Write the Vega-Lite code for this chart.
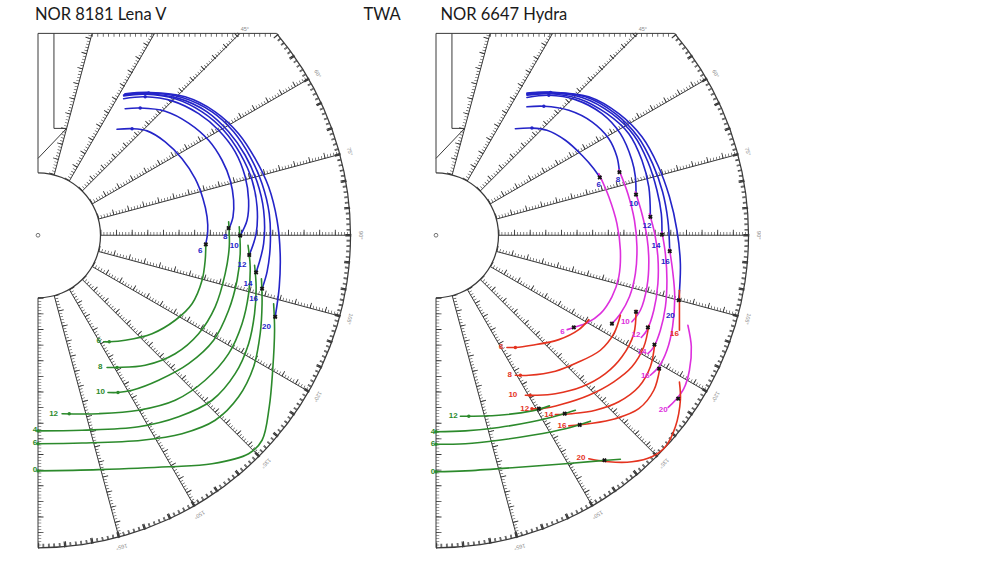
{
  "$schema": "https://vega.github.io/schema/vega-lite/v6.json",
  "background": "white",
  "padding": {"left": 26, "top": 6.75, "right": 0, "bottom": 0},
  "spacing": 68,
  "bounds": "flush",
  "config": {"view": {"stroke": null}, "line": {"strokeCap": "round"}},
  "datasets": {
    "arcLine": [
      {"t1": 49.76, "t2": 180, "r1": 10.02, "r2": 9.98},
      {"t1": 0, "t2": 180, "r1": 2.02, "r2": 1.98}
    ],
    "arcTick": [{"t1": 50, "t2": 180, "r1": 9.93, "r2": 9.93}],
    "spokes": [
      {"twa": 15, "x": 0.518, "y": 1.932, "x2": 1.731, "y2": 6.46},
      {"twa": 30, "x": 1.0, "y": 1.732, "x2": 3.73, "y2": 6.46},
      {"twa": 45, "x": 1.414, "y": 1.414, "x2": 6.46, "y2": 6.46},
      {"twa": 60, "x": 1.732, "y": 1.0, "x2": 8.66, "y2": 5.0},
      {"twa": 75, "x": 1.932, "y": 0.518, "x2": 9.659, "y2": 2.588},
      {"twa": 90, "x": 2.0, "y": 0, "x2": 10.0, "y2": 0},
      {"twa": 105, "x": 1.932, "y": -0.518, "x2": 9.659, "y2": -2.588},
      {"twa": 120, "x": 1.732, "y": -1.0, "x2": 8.66, "y2": -5.0},
      {"twa": 135, "x": 1.414, "y": -1.414, "x2": 7.071, "y2": -7.071},
      {"twa": 150, "x": 1.0, "y": -1.732, "x2": 5.0, "y2": -8.66},
      {"twa": 165, "x": 0.518, "y": -1.932, "x2": 2.588, "y2": -9.659},
      {"twa": 180, "x": 0, "y": -2.0, "x2": 0, "y2": -10.0}
    ],
    "ticksMinor": [
      {"twa": 15, "x": 0.468, "y": 1.945, "x2": 1.681, "y2": 6.46},
      {"twa": 30, "x": 0.955, "y": 1.758, "x2": 3.685, "y2": 6.46},
      {"twa": 45, "x": 1.377, "y": 1.451, "x2": 6.423, "y2": 6.46},
      {"twa": 60, "x": 1.706, "y": 1.045, "x2": 8.634, "y2": 5.045},
      {"twa": 75, "x": 1.919, "y": 0.568, "x2": 9.646, "y2": 2.638},
      {"twa": 90, "x": 2.0, "y": 0.052, "x2": 10.0, "y2": 0.052},
      {"twa": 105, "x": 1.945, "y": -0.468, "x2": 9.672, "y2": -2.538},
      {"twa": 120, "x": 1.758, "y": -0.955, "x2": 8.686, "y2": -4.955},
      {"twa": 135, "x": 1.451, "y": -1.377, "x2": 7.108, "y2": -7.034},
      {"twa": 150, "x": 1.045, "y": -1.706, "x2": 5.045, "y2": -8.634},
      {"twa": 165, "x": 0.568, "y": -1.919, "x2": 2.638, "y2": -9.646},
      {"twa": 180, "x": 0.052, "y": -2.0, "x2": 0.052, "y2": -10.0}
    ],
    "ticksMajor": [
      {"twa": 15, "x": 0.433, "y": 1.955, "x2": 1.646, "y2": 6.46},
      {"twa": 30, "x": 0.924, "y": 1.776, "x2": 3.654, "y2": 6.46},
      {"twa": 45, "x": 1.352, "y": 1.476, "x2": 6.398, "y2": 6.46},
      {"twa": 60, "x": 1.688, "y": 1.076, "x2": 8.616, "y2": 5.076},
      {"twa": 75, "x": 1.909, "y": 0.603, "x2": 9.636, "y2": 2.673},
      {"twa": 90, "x": 2.0, "y": 0.088, "x2": 10.0, "y2": 0.088},
      {"twa": 105, "x": 1.955, "y": -0.433, "x2": 9.682, "y2": -2.503},
      {"twa": 120, "x": 1.776, "y": -0.924, "x2": 8.704, "y2": -4.924},
      {"twa": 135, "x": 1.476, "y": -1.352, "x2": 7.133, "y2": -7.009},
      {"twa": 150, "x": 1.076, "y": -1.688, "x2": 5.076, "y2": -8.616},
      {"twa": 165, "x": 0.603, "y": -1.909, "x2": 2.673, "y2": -9.636},
      {"twa": 180, "x": 0.088, "y": -2.0, "x2": 0.088, "y2": -10.0}
    ],
    "frame": [
      {"x": 0, "y": 2.0, "x2": 0, "y2": 6.46},
      {"x": 0, "y": 6.46, "x2": 7.634, "y2": 6.46},
      {"x": 0.51, "y": 6.46, "x2": 0.51, "y2": 3.42},
      {"x": 0.51, "y": 3.42, "x2": 0.916, "y2": 3.42},
      {"x": 0, "y": 2.46, "x2": 0.916, "y2": 3.42}
    ],
    "topTicks": [{"x": 1.73, "y": 6.405, "x2": 7.6, "y2": 6.405}],
    "center": [{"x": 0, "y": 0}],
    "deg": [
      {"twa": 45, "lab": "45°", "x": 6.62, "y": 6.6},
      {"twa": 60, "lab": "60°", "x": 8.95, "y": 5.17},
      {"twa": 75, "lab": "75°", "x": 9.98, "y": 2.68},
      {"twa": 90, "lab": "90°", "x": 10.32, "y": 0},
      {"twa": 105, "lab": "105°", "x": 9.98, "y": -2.68},
      {"twa": 120, "lab": "120°", "x": 8.95, "y": -5.17},
      {"twa": 135, "lab": "135°", "x": 7.3, "y": -7.3},
      {"twa": 150, "lab": "150°", "x": 5.17, "y": -8.95},
      {"twa": 165, "lab": "165°", "x": 2.68, "y": -9.98}
    ],
    "headL": [{"x": -0.1, "y": 7.04, "text": "NOR 8181 Lena V"}],
    "twaText": [{"x": 11.01, "y": 7.04, "text": "TWA"}],
    "headR": [{"x": 0.14, "y": 7.04, "text": "NOR 6647 Hydra"}],
    "curvesL": [
      {"sail": "upwind", "tws": 6, "i": 0, "x": 2.53, "y": 3.39},
      {"sail": "upwind", "tws": 6, "i": 1, "x": 3.01, "y": 3.41},
      {"sail": "upwind", "tws": 6, "i": 2, "x": 3.49, "y": 3.34},
      {"sail": "upwind", "tws": 6, "i": 3, "x": 4.07, "y": 2.99},
      {"sail": "upwind", "tws": 6, "i": 4, "x": 4.61, "y": 2.45},
      {"sail": "upwind", "tws": 6, "i": 5, "x": 5.03, "y": 1.81},
      {"sail": "upwind", "tws": 6, "i": 6, "x": 5.28, "y": 1.17},
      {"sail": "upwind", "tws": 6, "i": 7, "x": 5.41, "y": 0.59},
      {"sail": "upwind", "tws": 6, "i": 8, "x": 5.43, "y": 0.11},
      {"sail": "upwind", "tws": 6, "i": 9, "x": 5.37, "y": -0.27},
      {"sail": "upwind", "tws": 8, "i": 0, "x": 2.79, "y": 4.05},
      {"sail": "upwind", "tws": 8, "i": 1, "x": 3.27, "y": 4.07},
      {"sail": "upwind", "tws": 8, "i": 2, "x": 4.07, "y": 3.97},
      {"sail": "upwind", "tws": 8, "i": 3, "x": 4.82, "y": 3.59},
      {"sail": "upwind", "tws": 8, "i": 4, "x": 5.46, "y": 3.04},
      {"sail": "upwind", "tws": 8, "i": 5, "x": 5.89, "y": 2.4},
      {"sail": "upwind", "tws": 8, "i": 6, "x": 6.15, "y": 1.76},
      {"sail": "upwind", "tws": 8, "i": 7, "x": 6.26, "y": 1.12},
      {"sail": "upwind", "tws": 8, "i": 8, "x": 6.24, "y": 0.59},
      {"sail": "upwind", "tws": 8, "i": 9, "x": 6.12, "y": 0.23},
      {"sail": "upwind", "tws": 10, "i": 0, "x": 2.74, "y": 4.37},
      {"sail": "upwind", "tws": 10, "i": 1, "x": 3.43, "y": 4.43},
      {"sail": "upwind", "tws": 10, "i": 2, "x": 4.29, "y": 4.3},
      {"sail": "upwind", "tws": 10, "i": 3, "x": 5.14, "y": 3.89},
      {"sail": "upwind", "tws": 10, "i": 4, "x": 5.78, "y": 3.36},
      {"sail": "upwind", "tws": 10, "i": 5, "x": 6.31, "y": 2.67},
      {"sail": "upwind", "tws": 10, "i": 6, "x": 6.63, "y": 1.87},
      {"sail": "upwind", "tws": 10, "i": 7, "x": 6.74, "y": 1.12},
      {"sail": "upwind", "tws": 10, "i": 8, "x": 6.69, "y": 0.48},
      {"sail": "upwind", "tws": 10, "i": 9, "x": 6.47, "y": -0.01},
      {"sail": "upwind", "tws": 12, "i": 0, "x": 2.74, "y": 4.46},
      {"sail": "upwind", "tws": 12, "i": 1, "x": 3.43, "y": 4.51},
      {"sail": "upwind", "tws": 12, "i": 2, "x": 4.39, "y": 4.37},
      {"sail": "upwind", "tws": 12, "i": 3, "x": 5.25, "y": 3.95},
      {"sail": "upwind", "tws": 12, "i": 4, "x": 5.94, "y": 3.36},
      {"sail": "upwind", "tws": 12, "i": 5, "x": 6.47, "y": 2.61},
      {"sail": "upwind", "tws": 12, "i": 6, "x": 6.85, "y": 1.76},
      {"sail": "upwind", "tws": 12, "i": 7, "x": 7.01, "y": 0.91},
      {"sail": "upwind", "tws": 12, "i": 8, "x": 6.98, "y": 0.05},
      {"sail": "upwind", "tws": 12, "i": 9, "x": 6.76, "y": -0.63},
      {"sail": "upwind", "tws": 14, "i": 0, "x": 2.74, "y": 4.49},
      {"sail": "upwind", "tws": 14, "i": 1, "x": 3.49, "y": 4.53},
      {"sail": "upwind", "tws": 14, "i": 2, "x": 4.5, "y": 4.38},
      {"sail": "upwind", "tws": 14, "i": 3, "x": 5.41, "y": 3.95},
      {"sail": "upwind", "tws": 14, "i": 4, "x": 6.1, "y": 3.31},
      {"sail": "upwind", "tws": 14, "i": 5, "x": 6.63, "y": 2.56},
      {"sail": "upwind", "tws": 14, "i": 6, "x": 7.01, "y": 1.71},
      {"sail": "upwind", "tws": 14, "i": 7, "x": 7.22, "y": 0.8},
      {"sail": "upwind", "tws": 14, "i": 8, "x": 7.22, "y": -0.27},
      {"sail": "upwind", "tws": 14, "i": 9, "x": 6.98, "y": -1.19},
      {"sail": "upwind", "tws": 16, "i": 0, "x": 2.77, "y": 4.51},
      {"sail": "upwind", "tws": 16, "i": 1, "x": 3.54, "y": 4.55},
      {"sail": "upwind", "tws": 16, "i": 2, "x": 4.61, "y": 4.41},
      {"sail": "upwind", "tws": 16, "i": 3, "x": 5.57, "y": 3.95},
      {"sail": "upwind", "tws": 16, "i": 4, "x": 6.26, "y": 3.31},
      {"sail": "upwind", "tws": 16, "i": 5, "x": 6.79, "y": 2.51},
      {"sail": "upwind", "tws": 16, "i": 6, "x": 7.17, "y": 1.65},
      {"sail": "upwind", "tws": 16, "i": 7, "x": 7.4, "y": 0.69},
      {"sail": "upwind", "tws": 16, "i": 8, "x": 7.43, "y": -0.37},
      {"sail": "upwind", "tws": 16, "i": 9, "x": 7.33, "y": -1.17},
      {"sail": "upwind", "tws": 16, "i": 10, "x": 7.17, "y": -1.71},
      {"sail": "upwind", "tws": 20, "i": 0, "x": 2.79, "y": 4.53},
      {"sail": "upwind", "tws": 20, "i": 1, "x": 3.59, "y": 4.57},
      {"sail": "upwind", "tws": 20, "i": 2, "x": 4.71, "y": 4.43},
      {"sail": "upwind", "tws": 20, "i": 3, "x": 5.67, "y": 3.95},
      {"sail": "upwind", "tws": 20, "i": 4, "x": 6.42, "y": 3.25},
      {"sail": "upwind", "tws": 20, "i": 5, "x": 6.95, "y": 2.45},
      {"sail": "upwind", "tws": 20, "i": 6, "x": 7.38, "y": 1.55},
      {"sail": "upwind", "tws": 20, "i": 7, "x": 7.65, "y": 0.48},
      {"sail": "upwind", "tws": 20, "i": 8, "x": 7.75, "y": -0.59},
      {"sail": "upwind", "tws": 20, "i": 9, "x": 7.72, "y": -1.65},
      {"sail": "upwind", "tws": 20, "i": 10, "x": 7.59, "y": -2.61},
      {"sail": "spinnaker", "tws": 6, "i": 0, "x": 5.37, "y": -0.27},
      {"sail": "spinnaker", "tws": 6, "i": 1, "x": 5.35, "y": -0.8},
      {"sail": "spinnaker", "tws": 6, "i": 2, "x": 5.25, "y": -1.44},
      {"sail": "spinnaker", "tws": 6, "i": 3, "x": 4.93, "y": -2.19},
      {"sail": "spinnaker", "tws": 6, "i": 4, "x": 4.39, "y": -2.72},
      {"sail": "spinnaker", "tws": 6, "i": 5, "x": 3.65, "y": -3.15},
      {"sail": "spinnaker", "tws": 6, "i": 6, "x": 2.79, "y": -3.36},
      {"sail": "spinnaker", "tws": 6, "i": 7, "x": 2.28, "y": -3.41},
      {"sail": "spinnaker", "tws": 6, "i": 8, "x": 2.1, "y": -3.41},
      {"sail": "spinnaker", "tws": 8, "i": 0, "x": 6.1, "y": 0.43},
      {"sail": "spinnaker", "tws": 8, "i": 1, "x": 6.12, "y": -0.37},
      {"sail": "spinnaker", "tws": 8, "i": 2, "x": 5.99, "y": -1.23},
      {"sail": "spinnaker", "tws": 8, "i": 3, "x": 5.67, "y": -2.29},
      {"sail": "spinnaker", "tws": 8, "i": 4, "x": 5.14, "y": -3.15},
      {"sail": "spinnaker", "tws": 8, "i": 5, "x": 4.39, "y": -3.79},
      {"sail": "spinnaker", "tws": 8, "i": 6, "x": 3.43, "y": -4.16},
      {"sail": "spinnaker", "tws": 8, "i": 7, "x": 2.53, "y": -4.23},
      {"sail": "spinnaker", "tws": 8, "i": 8, "x": 2.21, "y": -4.23},
      {"sail": "spinnaker", "tws": 10, "i": 0, "x": 6.44, "y": 0.27},
      {"sail": "spinnaker", "tws": 10, "i": 1, "x": 6.47, "y": -0.59},
      {"sail": "spinnaker", "tws": 10, "i": 2, "x": 6.37, "y": -1.44},
      {"sail": "spinnaker", "tws": 10, "i": 3, "x": 6.1, "y": -2.4},
      {"sail": "spinnaker", "tws": 10, "i": 4, "x": 5.62, "y": -3.36},
      {"sail": "spinnaker", "tws": 10, "i": 5, "x": 4.82, "y": -4.11},
      {"sail": "spinnaker", "tws": 10, "i": 6, "x": 3.86, "y": -4.64},
      {"sail": "spinnaker", "tws": 10, "i": 7, "x": 3.01, "y": -4.96},
      {"sail": "spinnaker", "tws": 10, "i": 8, "x": 2.56, "y": -5.03},
      {"sail": "spinnaker", "tws": 10, "i": 9, "x": 2.24, "y": -5.03},
      {"sail": "spinnaker", "tws": 12, "i": 0, "x": 6.72, "y": -0.32},
      {"sail": "spinnaker", "tws": 12, "i": 1, "x": 6.79, "y": -1.01},
      {"sail": "spinnaker", "tws": 12, "i": 2, "x": 6.74, "y": -1.87},
      {"sail": "spinnaker", "tws": 12, "i": 3, "x": 6.53, "y": -2.83},
      {"sail": "spinnaker", "tws": 12, "i": 4, "x": 6.1, "y": -3.79},
      {"sail": "spinnaker", "tws": 12, "i": 5, "x": 5.35, "y": -4.64},
      {"sail": "spinnaker", "tws": 12, "i": 6, "x": 4.39, "y": -5.28},
      {"sail": "spinnaker", "tws": 12, "i": 7, "x": 3.22, "y": -5.6},
      {"sail": "spinnaker", "tws": 12, "i": 8, "x": 1.94, "y": -5.71},
      {"sail": "spinnaker", "tws": 12, "i": 9, "x": 0.77, "y": -5.71},
      {"sail": "spinnaker", "tws": 14, "i": 0, "x": 6.93, "y": -0.96},
      {"sail": "spinnaker", "tws": 14, "i": 1, "x": 6.98, "y": -1.65},
      {"sail": "spinnaker", "tws": 14, "i": 2, "x": 6.93, "y": -2.51},
      {"sail": "spinnaker", "tws": 14, "i": 3, "x": 6.74, "y": -3.47},
      {"sail": "spinnaker", "tws": 14, "i": 4, "x": 6.31, "y": -4.43},
      {"sail": "spinnaker", "tws": 14, "i": 5, "x": 5.57, "y": -5.28},
      {"sail": "spinnaker", "tws": 14, "i": 6, "x": 4.5, "y": -5.81},
      {"sail": "spinnaker", "tws": 14, "i": 7, "x": 3.22, "y": -6.13},
      {"sail": "spinnaker", "tws": 14, "i": 8, "x": 1.41, "y": -6.24},
      {"sail": "spinnaker", "tws": 14, "i": 9, "x": 0, "y": -6.26},
      {"sail": "spinnaker", "tws": 16, "i": 0, "x": 7.15, "y": -1.39},
      {"sail": "spinnaker", "tws": 16, "i": 1, "x": 7.17, "y": -2.19},
      {"sail": "spinnaker", "tws": 16, "i": 2, "x": 7.11, "y": -3.15},
      {"sail": "spinnaker", "tws": 16, "i": 3, "x": 6.9, "y": -4.21},
      {"sail": "spinnaker", "tws": 16, "i": 4, "x": 6.42, "y": -5.17},
      {"sail": "spinnaker", "tws": 16, "i": 5, "x": 5.67, "y": -5.92},
      {"sail": "spinnaker", "tws": 16, "i": 6, "x": 4.61, "y": -6.35},
      {"sail": "spinnaker", "tws": 16, "i": 7, "x": 3.33, "y": -6.56},
      {"sail": "spinnaker", "tws": 16, "i": 8, "x": 1.41, "y": -6.65},
      {"sail": "spinnaker", "tws": 16, "i": 9, "x": 0, "y": -6.67},
      {"sail": "spinnaker", "tws": 20, "i": 0, "x": 7.54, "y": -2.19},
      {"sail": "spinnaker", "tws": 20, "i": 1, "x": 7.57, "y": -3.04},
      {"sail": "spinnaker", "tws": 20, "i": 2, "x": 7.51, "y": -4.32},
      {"sail": "spinnaker", "tws": 20, "i": 3, "x": 7.4, "y": -5.49},
      {"sail": "spinnaker", "tws": 20, "i": 4, "x": 7.17, "y": -6.56},
      {"sail": "spinnaker", "tws": 20, "i": 5, "x": 6.74, "y": -6.99},
      {"sail": "spinnaker", "tws": 20, "i": 6, "x": 5.57, "y": -7.31},
      {"sail": "spinnaker", "tws": 20, "i": 7, "x": 4.18, "y": -7.41},
      {"sail": "spinnaker", "tws": 20, "i": 8, "x": 1.94, "y": -7.5},
      {"sail": "spinnaker", "tws": 20, "i": 9, "x": 0, "y": -7.54}
    ],
    "labelsL": [
      {"sail": "upwind", "label": "6", "x": 5.19, "y": -0.51},
      {"sail": "upwind", "label": "8", "x": 5.99, "y": -0.05},
      {"sail": "upwind", "label": "10", "x": 6.28, "y": -0.35},
      {"sail": "upwind", "label": "12", "x": 6.53, "y": -0.94},
      {"sail": "upwind", "label": "14", "x": 6.72, "y": -1.55},
      {"sail": "upwind", "label": "16", "x": 6.9, "y": -2.05},
      {"sail": "upwind", "label": "20", "x": 7.31, "y": -2.95},
      {"sail": "spinnaker", "label": "6", "x": 1.94, "y": -3.38},
      {"sail": "spinnaker", "label": "8", "x": 1.99, "y": -4.23},
      {"sail": "spinnaker", "label": "10", "x": 2.0, "y": -5.03},
      {"sail": "spinnaker", "label": "12", "x": 0.5, "y": -5.71},
      {"sail": "spinnaker", "label": "4", "x": -0.1, "y": -6.24},
      {"sail": "spinnaker", "label": "6", "x": -0.1, "y": -6.65},
      {"sail": "spinnaker", "label": "0", "x": -0.1, "y": -7.52}
    ],
    "xL": [
      {"x": 5.37, "y": -0.29}, {"x": 6.1, "y": 0.23}, {"x": 6.47, "y": -0.01},
      {"x": 6.76, "y": -0.63}, {"x": 6.98, "y": -1.19}, {"x": 7.17, "y": -1.71},
      {"x": 7.59, "y": -2.61}
    ],
    "dotsL": [
      {"sail": "upwind", "x": 3.01, "y": 3.41}, {"sail": "upwind", "x": 3.27, "y": 4.07},
      {"sail": "upwind", "x": 3.43, "y": 4.43}, {"sail": "upwind", "x": 3.54, "y": 4.55},
      {"sail": "spinnaker", "x": 2.28, "y": -3.41}, {"sail": "spinnaker", "x": 2.53, "y": -4.23},
      {"sail": "spinnaker", "x": 2.56, "y": -5.03}, {"sail": "spinnaker", "x": 1.0, "y": -5.71},
      {"sail": "spinnaker", "x": 0, "y": -6.26}, {"sail": "spinnaker", "x": 0, "y": -6.67},
      {"sail": "spinnaker", "x": 0, "y": -7.54}
    ],
    "curvesR": [
      {"sail": "upwind", "tws": 6, "i": 0, "x": 2.54, "y": 3.41},
      {"sail": "upwind", "tws": 6, "i": 1, "x": 3.07, "y": 3.43},
      {"sail": "upwind", "tws": 6, "i": 2, "x": 3.55, "y": 3.36},
      {"sail": "upwind", "tws": 6, "i": 3, "x": 4.14, "y": 3.04},
      {"sail": "upwind", "tws": 6, "i": 4, "x": 4.67, "y": 2.56},
      {"sail": "upwind", "tws": 6, "i": 5, "x": 5.05, "y": 2.13},
      {"sail": "upwind", "tws": 6, "i": 6, "x": 5.24, "y": 1.85},
      {"sail": "upwind", "tws": 8, "i": 0, "x": 2.91, "y": 4.11},
      {"sail": "upwind", "tws": 8, "i": 1, "x": 3.45, "y": 4.13},
      {"sail": "upwind", "tws": 8, "i": 2, "x": 4.25, "y": 4.0},
      {"sail": "upwind", "tws": 8, "i": 3, "x": 4.99, "y": 3.63},
      {"sail": "upwind", "tws": 8, "i": 4, "x": 5.53, "y": 3.09},
      {"sail": "upwind", "tws": 8, "i": 5, "x": 5.79, "y": 2.51},
      {"sail": "upwind", "tws": 8, "i": 6, "x": 5.87, "y": 2.02},
      {"sail": "upwind", "tws": 10, "i": 0, "x": 2.91, "y": 4.41},
      {"sail": "upwind", "tws": 10, "i": 1, "x": 3.61, "y": 4.48},
      {"sail": "upwind", "tws": 10, "i": 2, "x": 4.46, "y": 4.34},
      {"sail": "upwind", "tws": 10, "i": 3, "x": 5.31, "y": 3.89},
      {"sail": "upwind", "tws": 10, "i": 4, "x": 5.9, "y": 3.25},
      {"sail": "upwind", "tws": 10, "i": 5, "x": 6.27, "y": 2.4},
      {"sail": "upwind", "tws": 10, "i": 6, "x": 6.38, "y": 1.87},
      {"sail": "upwind", "tws": 10, "i": 7, "x": 6.4, "y": 1.3},
      {"sail": "upwind", "tws": 12, "i": 0, "x": 2.91, "y": 4.48},
      {"sail": "upwind", "tws": 12, "i": 1, "x": 3.61, "y": 4.53},
      {"sail": "upwind", "tws": 12, "i": 2, "x": 4.57, "y": 4.37},
      {"sail": "upwind", "tws": 12, "i": 3, "x": 5.47, "y": 3.89},
      {"sail": "upwind", "tws": 12, "i": 4, "x": 6.17, "y": 3.25},
      {"sail": "upwind", "tws": 12, "i": 5, "x": 6.59, "y": 2.4},
      {"sail": "upwind", "tws": 12, "i": 6, "x": 6.81, "y": 1.55},
      {"sail": "upwind", "tws": 12, "i": 7, "x": 6.86, "y": 0.59},
      {"sail": "upwind", "tws": 14, "i": 0, "x": 2.91, "y": 4.51},
      {"sail": "upwind", "tws": 14, "i": 1, "x": 3.63, "y": 4.55},
      {"sail": "upwind", "tws": 14, "i": 2, "x": 4.67, "y": 4.41},
      {"sail": "upwind", "tws": 14, "i": 3, "x": 5.63, "y": 3.89},
      {"sail": "upwind", "tws": 14, "i": 4, "x": 6.33, "y": 3.2},
      {"sail": "upwind", "tws": 14, "i": 5, "x": 6.78, "y": 2.35},
      {"sail": "upwind", "tws": 14, "i": 6, "x": 7.07, "y": 1.44},
      {"sail": "upwind", "tws": 14, "i": 7, "x": 7.21, "y": 0.69},
      {"sail": "upwind", "tws": 14, "i": 8, "x": 7.23, "y": 0.02},
      {"sail": "upwind", "tws": 16, "i": 0, "x": 2.91, "y": 4.53},
      {"sail": "upwind", "tws": 16, "i": 1, "x": 3.66, "y": 4.57},
      {"sail": "upwind", "tws": 16, "i": 2, "x": 4.78, "y": 4.43},
      {"sail": "upwind", "tws": 16, "i": 3, "x": 5.74, "y": 3.89},
      {"sail": "upwind", "tws": 16, "i": 4, "x": 6.46, "y": 3.15},
      {"sail": "upwind", "tws": 16, "i": 5, "x": 6.93, "y": 2.29},
      {"sail": "upwind", "tws": 16, "i": 6, "x": 7.25, "y": 1.39},
      {"sail": "upwind", "tws": 16, "i": 7, "x": 7.42, "y": 0.48},
      {"sail": "upwind", "tws": 16, "i": 8, "x": 7.48, "y": -0.51},
      {"sail": "upwind", "tws": 20, "i": 0, "x": 2.91, "y": 4.55},
      {"sail": "upwind", "tws": 20, "i": 1, "x": 3.69, "y": 4.58},
      {"sail": "upwind", "tws": 20, "i": 2, "x": 4.89, "y": 4.43},
      {"sail": "upwind", "tws": 20, "i": 3, "x": 5.85, "y": 3.89},
      {"sail": "upwind", "tws": 20, "i": 4, "x": 6.59, "y": 3.15},
      {"sail": "upwind", "tws": 20, "i": 5, "x": 7.1, "y": 2.24},
      {"sail": "upwind", "tws": 20, "i": 6, "x": 7.47, "y": 1.23},
      {"sail": "upwind", "tws": 20, "i": 7, "x": 7.71, "y": 0.16},
      {"sail": "upwind", "tws": 20, "i": 8, "x": 7.82, "y": -0.91},
      {"sail": "upwind", "tws": 20, "i": 9, "x": 7.77, "y": -2.08},
      {"sail": "code0", "tws": 6, "i": 0, "x": 5.21, "y": 1.97},
      {"sail": "code0", "tws": 6, "i": 1, "x": 5.53, "y": 1.23},
      {"sail": "code0", "tws": 6, "i": 2, "x": 5.79, "y": 0.37},
      {"sail": "code0", "tws": 6, "i": 3, "x": 5.9, "y": -0.48},
      {"sail": "code0", "tws": 6, "i": 4, "x": 5.85, "y": -1.33},
      {"sail": "code0", "tws": 6, "i": 5, "x": 5.63, "y": -1.97},
      {"sail": "code0", "tws": 6, "i": 6, "x": 5.26, "y": -2.51},
      {"sail": "code0", "tws": 6, "i": 7, "x": 4.83, "y": -2.81},
      {"sail": "code0", "tws": 6, "i": 8, "x": 4.41, "y": -2.95},
      {"sail": "code0", "tws": 6, "i": 9, "x": 4.2, "y": -3.02},
      {"sail": "code0", "tws": 8, "i": 0, "x": 5.85, "y": 2.1},
      {"sail": "code0", "tws": 8, "i": 1, "x": 6.14, "y": 1.33},
      {"sail": "code0", "tws": 8, "i": 2, "x": 6.35, "y": 0.48},
      {"sail": "code0", "tws": 8, "i": 3, "x": 6.43, "y": -0.37},
      {"sail": "code0", "tws": 8, "i": 4, "x": 6.38, "y": -1.23},
      {"sail": "code0", "tws": 8, "i": 5, "x": 6.19, "y": -1.97},
      {"sail": "code0", "tws": 8, "i": 6, "x": 5.9, "y": -2.51},
      {"sail": "code0", "tws": 8, "i": 7, "x": 5.63, "y": -2.83},
      {"sail": "code0", "tws": 10, "i": 0, "x": 6.38, "y": 1.39},
      {"sail": "code0", "tws": 10, "i": 1, "x": 6.59, "y": 0.69},
      {"sail": "code0", "tws": 10, "i": 2, "x": 6.75, "y": -0.05},
      {"sail": "code0", "tws": 10, "i": 3, "x": 6.81, "y": -0.85},
      {"sail": "code0", "tws": 10, "i": 4, "x": 6.75, "y": -1.65},
      {"sail": "code0", "tws": 10, "i": 5, "x": 6.54, "y": -2.4},
      {"sail": "code0", "tws": 10, "i": 6, "x": 6.27, "y": -2.77},
      {"sail": "code0", "tws": 12, "i": 0, "x": 6.83, "y": 0.69},
      {"sail": "code0", "tws": 12, "i": 1, "x": 7.0, "y": 0.05},
      {"sail": "code0", "tws": 12, "i": 2, "x": 7.1, "y": -0.69},
      {"sail": "code0", "tws": 12, "i": 3, "x": 7.1, "y": -1.55},
      {"sail": "code0", "tws": 12, "i": 4, "x": 6.97, "y": -2.4},
      {"sail": "code0", "tws": 12, "i": 5, "x": 6.75, "y": -3.04},
      {"sail": "code0", "tws": 12, "i": 6, "x": 6.57, "y": -3.27},
      {"sail": "code0", "tws": 14, "i": 0, "x": 7.23, "y": 0.11},
      {"sail": "code0", "tws": 14, "i": 1, "x": 7.34, "y": -0.59},
      {"sail": "code0", "tws": 14, "i": 2, "x": 7.39, "y": -1.44},
      {"sail": "code0", "tws": 14, "i": 3, "x": 7.34, "y": -2.29},
      {"sail": "code0", "tws": 14, "i": 4, "x": 7.18, "y": -3.04},
      {"sail": "code0", "tws": 14, "i": 5, "x": 6.97, "y": -3.57},
      {"sail": "code0", "tws": 14, "i": 6, "x": 6.78, "y": -3.79},
      {"sail": "code0", "tws": 16, "i": 0, "x": 7.47, "y": -0.43},
      {"sail": "code0", "tws": 16, "i": 1, "x": 7.57, "y": -1.12},
      {"sail": "code0", "tws": 16, "i": 2, "x": 7.64, "y": -1.97},
      {"sail": "code0", "tws": 16, "i": 3, "x": 7.57, "y": -2.93},
      {"sail": "code0", "tws": 16, "i": 4, "x": 7.39, "y": -3.68},
      {"sail": "code0", "tws": 16, "i": 5, "x": 7.13, "y": -4.21},
      {"sail": "code0", "tws": 16, "i": 6, "x": 6.86, "y": -4.48},
      {"sail": "code0", "tws": 20, "i": 0, "x": 8.06, "y": -2.88},
      {"sail": "code0", "tws": 20, "i": 1, "x": 8.17, "y": -3.57},
      {"sail": "code0", "tws": 20, "i": 2, "x": 8.11, "y": -4.32},
      {"sail": "code0", "tws": 20, "i": 3, "x": 7.93, "y": -4.91},
      {"sail": "code0", "tws": 20, "i": 4, "x": 7.66, "y": -5.28},
      {"sail": "code0", "tws": 20, "i": 5, "x": 7.43, "y": -5.51},
      {"sail": "gennaker", "tws": 6, "i": 0, "x": 4.89, "y": -2.7},
      {"sail": "gennaker", "tws": 6, "i": 1, "x": 4.57, "y": -3.02},
      {"sail": "gennaker", "tws": 6, "i": 2, "x": 3.93, "y": -3.34},
      {"sail": "gennaker", "tws": 6, "i": 3, "x": 3.07, "y": -3.52},
      {"sail": "gennaker", "tws": 6, "i": 4, "x": 2.54, "y": -3.59},
      {"sail": "gennaker", "tws": 6, "i": 5, "x": 2.27, "y": -3.59},
      {"sail": "gennaker", "tws": 8, "i": 0, "x": 5.9, "y": -2.56},
      {"sail": "gennaker", "tws": 8, "i": 1, "x": 5.69, "y": -3.15},
      {"sail": "gennaker", "tws": 8, "i": 2, "x": 5.26, "y": -3.68},
      {"sail": "gennaker", "tws": 8, "i": 3, "x": 4.49, "y": -4.09},
      {"sail": "gennaker", "tws": 8, "i": 4, "x": 3.82, "y": -4.35},
      {"sail": "gennaker", "tws": 8, "i": 5, "x": 2.97, "y": -4.48},
      {"sail": "gennaker", "tws": 8, "i": 6, "x": 2.54, "y": -4.48},
      {"sail": "gennaker", "tws": 10, "i": 0, "x": 6.4, "y": -2.4},
      {"sail": "gennaker", "tws": 10, "i": 1, "x": 6.33, "y": -3.15},
      {"sail": "gennaker", "tws": 10, "i": 2, "x": 5.95, "y": -3.89},
      {"sail": "gennaker", "tws": 10, "i": 3, "x": 5.42, "y": -4.43},
      {"sail": "gennaker", "tws": 10, "i": 4, "x": 4.67, "y": -4.85},
      {"sail": "gennaker", "tws": 10, "i": 5, "x": 3.82, "y": -5.07},
      {"sail": "gennaker", "tws": 10, "i": 6, "x": 3.18, "y": -5.12},
      {"sail": "gennaker", "tws": 10, "i": 7, "x": 2.86, "y": -5.12},
      {"sail": "gennaker", "tws": 12, "i": 0, "x": 6.81, "y": -2.88},
      {"sail": "gennaker", "tws": 12, "i": 1, "x": 6.65, "y": -3.57},
      {"sail": "gennaker", "tws": 12, "i": 2, "x": 6.27, "y": -4.21},
      {"sail": "gennaker", "tws": 12, "i": 3, "x": 5.69, "y": -4.69},
      {"sail": "gennaker", "tws": 12, "i": 4, "x": 4.89, "y": -5.12},
      {"sail": "gennaker", "tws": 12, "i": 5, "x": 4.03, "y": -5.41},
      {"sail": "gennaker", "tws": 12, "i": 6, "x": 3.39, "y": -5.55},
      {"sail": "gennaker", "tws": 12, "i": 7, "x": 3.07, "y": -5.55},
      {"sail": "gennaker", "tws": 14, "i": 0, "x": 7.0, "y": -3.47},
      {"sail": "gennaker", "tws": 14, "i": 1, "x": 6.86, "y": -4.21},
      {"sail": "gennaker", "tws": 14, "i": 2, "x": 6.49, "y": -4.85},
      {"sail": "gennaker", "tws": 14, "i": 3, "x": 5.85, "y": -5.33},
      {"sail": "gennaker", "tws": 14, "i": 4, "x": 5.1, "y": -5.6},
      {"sail": "gennaker", "tws": 14, "i": 5, "x": 4.35, "y": -5.71},
      {"sail": "gennaker", "tws": 14, "i": 6, "x": 3.82, "y": -5.74},
      {"sail": "gennaker", "tws": 16, "i": 0, "x": 7.16, "y": -4.27},
      {"sail": "gennaker", "tws": 16, "i": 1, "x": 6.97, "y": -4.96},
      {"sail": "gennaker", "tws": 16, "i": 2, "x": 6.49, "y": -5.55},
      {"sail": "gennaker", "tws": 16, "i": 3, "x": 5.74, "y": -5.87},
      {"sail": "gennaker", "tws": 16, "i": 4, "x": 4.89, "y": -6.03},
      {"sail": "gennaker", "tws": 16, "i": 5, "x": 4.25, "y": -6.1},
      {"sail": "gennaker", "tws": 16, "part": 2, "i": 0, "x": 7.79, "y": -1.76},
      {"sail": "gennaker", "tws": 16, "part": 2, "i": 1, "x": 7.79, "y": -3.04},
      {"sail": "gennaker", "tws": 20, "i": 0, "x": 7.79, "y": -4.7},
      {"sail": "gennaker", "tws": 20, "i": 1, "x": 7.82, "y": -5.28},
      {"sail": "gennaker", "tws": 20, "i": 2, "x": 7.66, "y": -6.13},
      {"sail": "gennaker", "tws": 20, "i": 3, "x": 7.34, "y": -6.77},
      {"sail": "gennaker", "tws": 20, "i": 4, "x": 6.91, "y": -7.09},
      {"sail": "gennaker", "tws": 20, "i": 5, "x": 6.27, "y": -7.25},
      {"sail": "gennaker", "tws": 20, "i": 6, "x": 5.53, "y": -7.25},
      {"sail": "gennaker", "tws": 20, "i": 7, "x": 4.89, "y": -7.15},
      {"sail": "spinnaker", "tws": 12, "i": 0, "x": 0.78, "y": -5.79},
      {"sail": "spinnaker", "tws": 12, "i": 1, "x": 2.01, "y": -5.76},
      {"sail": "spinnaker", "tws": 12, "i": 2, "x": 3.07, "y": -5.62},
      {"sail": "spinnaker", "tws": 12, "i": 3, "x": 3.63, "y": -5.46},
      {"sail": "spinnaker", "tws": 14, "i": 0, "x": 0, "y": -6.29},
      {"sail": "spinnaker", "tws": 14, "i": 1, "x": 0.94, "y": -6.26},
      {"sail": "spinnaker", "tws": 14, "i": 2, "x": 2.01, "y": -6.15},
      {"sail": "spinnaker", "tws": 14, "i": 3, "x": 3.07, "y": -5.97},
      {"sail": "spinnaker", "tws": 14, "i": 4, "x": 3.93, "y": -5.76},
      {"sail": "spinnaker", "tws": 14, "i": 5, "x": 4.46, "y": -5.6},
      {"sail": "spinnaker", "tws": 16, "i": 0, "x": 0, "y": -6.69},
      {"sail": "spinnaker", "tws": 16, "i": 1, "x": 0.94, "y": -6.67},
      {"sail": "spinnaker", "tws": 16, "i": 2, "x": 2.01, "y": -6.56},
      {"sail": "spinnaker", "tws": 16, "i": 3, "x": 3.07, "y": -6.4},
      {"sail": "spinnaker", "tws": 16, "i": 4, "x": 4.14, "y": -6.19},
      {"sail": "spinnaker", "tws": 16, "i": 5, "x": 4.94, "y": -5.95},
      {"sail": "spinnaker", "tws": 20, "i": 0, "x": 0, "y": -7.57},
      {"sail": "spinnaker", "tws": 20, "i": 1, "x": 0.94, "y": -7.54},
      {"sail": "spinnaker", "tws": 20, "i": 2, "x": 2.54, "y": -7.43},
      {"sail": "spinnaker", "tws": 20, "i": 3, "x": 4.14, "y": -7.31},
      {"sail": "spinnaker", "tws": 20, "i": 4, "x": 5.21, "y": -7.22},
      {"sail": "spinnaker", "tws": 20, "i": 5, "x": 5.9, "y": -7.17}
    ],
    "labelsR": [
      {"sail": "upwind", "label": "6", "x": 5.21, "y": 1.6},
      {"sail": "upwind", "label": "8", "x": 5.82, "y": 1.76},
      {"sail": "upwind", "label": "10", "x": 6.33, "y": 0.99},
      {"sail": "upwind", "label": "12", "x": 6.75, "y": 0.3},
      {"sail": "upwind", "label": "14", "x": 7.04, "y": -0.34},
      {"sail": "upwind", "label": "16", "x": 7.34, "y": -0.85},
      {"sail": "upwind", "label": "20", "x": 7.5, "y": -2.59},
      {"sail": "code0", "label": "6", "x": 4.05, "y": -3.11},
      {"sail": "code0", "label": "10", "x": 6.06, "y": -2.79},
      {"sail": "code0", "label": "12", "x": 6.4, "y": -3.2},
      {"sail": "code0", "label": "14", "x": 6.59, "y": -3.73},
      {"sail": "code0", "label": "16", "x": 6.7, "y": -4.51},
      {"sail": "code0", "label": "20", "x": 7.27, "y": -5.6},
      {"sail": "gennaker", "label": "6", "x": 2.08, "y": -3.57},
      {"sail": "gennaker", "label": "8", "x": 2.36, "y": -4.46},
      {"sail": "gennaker", "label": "10", "x": 2.46, "y": -5.12},
      {"sail": "gennaker", "label": "12", "x": 2.84, "y": -5.55},
      {"sail": "gennaker", "label": "14", "x": 3.61, "y": -5.74},
      {"sail": "gennaker", "label": "16", "x": 4.03, "y": -6.1},
      {"sail": "gennaker", "label": "20", "x": 4.64, "y": -7.13},
      {"sail": "gennaker", "label": "16", "x": 7.63, "y": -3.15},
      {"sail": "spinnaker", "label": "12", "x": 0.55, "y": -5.79},
      {"sail": "spinnaker", "label": "4", "x": -0.1, "y": -6.29},
      {"sail": "spinnaker", "label": "6", "x": -0.1, "y": -6.69},
      {"sail": "spinnaker", "label": "0", "x": -0.1, "y": -7.57}
    ],
    "xR": [
      {"x": 5.24, "y": 1.85}, {"x": 5.87, "y": 2.02}, {"x": 6.4, "y": 1.3},
      {"x": 6.86, "y": 0.59}, {"x": 7.23, "y": 0.02}, {"x": 7.48, "y": -0.51},
      {"x": 7.77, "y": -2.08}, {"x": 4.41, "y": -2.95}, {"x": 5.63, "y": -2.83},
      {"x": 6.4, "y": -2.45}, {"x": 6.78, "y": -2.95}, {"x": 6.99, "y": -3.5},
      {"x": 7.14, "y": -4.27}, {"x": 7.75, "y": -5.23}, {"x": 3.29, "y": -5.55},
      {"x": 4.12, "y": -5.71}, {"x": 4.6, "y": -6.07}, {"x": 5.39, "y": -7.2}
    ],
    "dotsR": [
      {"sail": "upwind", "x": 3.07, "y": 3.43}, {"sail": "upwind", "x": 3.45, "y": 4.13},
      {"sail": "upwind", "x": 3.61, "y": 4.48}, {"sail": "upwind", "x": 3.66, "y": 4.57},
      {"sail": "gennaker", "x": 2.54, "y": -3.59}, {"sail": "gennaker", "x": 2.7, "y": -4.48},
      {"sail": "gennaker", "x": 3.01, "y": -5.12}, {"sail": "gennaker", "x": 3.07, "y": -5.55},
      {"sail": "spinnaker", "x": 1.05, "y": -5.79}, {"sail": "spinnaker", "x": 0, "y": -6.29},
      {"sail": "spinnaker", "x": 0, "y": -6.69}, {"sail": "spinnaker", "x": 0, "y": -7.57}
    ]
  },
  "hconcat": [
    {
      "width": 330,
      "height": 520,
      "layer": [
        {"data": {"name": "arcLine"}, "mark": {"type": "arc", "fill": "#3a3a3a", "filled": true, "strokeWidth": 0},
         "encoding": {
           "x": {"datum": 0, "type": "quantitative", "scale": {"domain": [-0.32, 10.24], "nice": false, "zero": false}, "axis": null},
           "y": {"datum": 0, "type": "quantitative", "scale": {"domain": [-10.16, 6.48], "nice": false, "zero": false}, "axis": null},
           "theta": {"field": "t1", "type": "quantitative", "scale": {"domain": [0, 360], "range": [0, 6.283185307179586]}},
           "theta2": {"field": "t2"},
           "radius": {"field": "r1", "type": "quantitative", "scale": {"type": "linear", "domain": [0, 10], "range": [0, 312.5], "zero": true}},
           "radius2": {"field": "r2"}}},
        {"data": {"name": "arcTick"}, "mark": {"type": "arc", "filled": false, "stroke": "#3a3a3a", "strokeWidth": 3.5, "strokeDash": [0.7, 4.7158]},
         "encoding": {
           "x": {"datum": 0, "type": "quantitative", "scale": {"domain": [-0.32, 10.24], "nice": false, "zero": false}, "axis": null},
           "y": {"datum": 0, "type": "quantitative", "scale": {"domain": [-10.16, 6.48], "nice": false, "zero": false}, "axis": null},
           "theta": {"field": "t1", "type": "quantitative", "scale": {"domain": [0, 360], "range": [0, 6.283185307179586]}},
           "theta2": {"field": "t2"},
           "radius": {"field": "r1", "type": "quantitative", "scale": {"type": "linear", "domain": [0, 10], "range": [0, 312.5], "zero": true}},
           "radius2": {"field": "r2"}}},
        {"data": {"name": "arcTick"}, "mark": {"type": "arc", "filled": false, "stroke": "#3a3a3a", "strokeWidth": 6, "strokeDash": [1.1, 25.979]},
         "encoding": {
           "x": {"datum": 0, "type": "quantitative", "scale": {"domain": [-0.32, 10.24], "nice": false, "zero": false}, "axis": null},
           "y": {"datum": 0, "type": "quantitative", "scale": {"domain": [-10.16, 6.48], "nice": false, "zero": false}, "axis": null},
           "theta": {"field": "t1", "type": "quantitative", "scale": {"domain": [0, 360], "range": [0, 6.283185307179586]}},
           "theta2": {"field": "t2"},
           "radius": {"field": "r1", "type": "quantitative", "scale": {"type": "linear", "domain": [0, 10], "range": [0, 312.5], "zero": true}},
           "radius2": {"field": "r2"}}},
        {"data": {"name": "spokes"}, "mark": {"type": "rule", "stroke": "#3a3a3a", "strokeWidth": 1},
         "encoding": {"x": {"field": "x", "type": "quantitative", "scale": {"domain": [-0.32, 10.24], "nice": false, "zero": false}, "axis": null}, "y": {"field": "y", "type": "quantitative", "scale": {"domain": [-10.16, 6.48], "nice": false, "zero": false}, "axis": null}, "x2": {"field": "x2"}, "y2": {"field": "y2"}}},
        {"data": {"name": "ticksMinor"}, "mark": {"type": "rule", "stroke": "#3a3a3a", "strokeWidth": 3.25, "strokeDash": [0.6, 2.525]},
         "encoding": {"x": {"field": "x", "type": "quantitative", "scale": {"domain": [-0.32, 10.24], "nice": false, "zero": false}, "axis": null}, "y": {"field": "y", "type": "quantitative", "scale": {"domain": [-10.16, 6.48], "nice": false, "zero": false}, "axis": null}, "x2": {"field": "x2"}, "y2": {"field": "y2"}}},
        {"data": {"name": "ticksMajor"}, "mark": {"type": "rule", "stroke": "#3a3a3a", "strokeWidth": 5.5, "strokeDash": [0.9, 14.725]},
         "encoding": {"x": {"field": "x", "type": "quantitative", "scale": {"domain": [-0.32, 10.24], "nice": false, "zero": false}, "axis": null}, "y": {"field": "y", "type": "quantitative", "scale": {"domain": [-10.16, 6.48], "nice": false, "zero": false}, "axis": null}, "x2": {"field": "x2"}, "y2": {"field": "y2"}}},
        {"data": {"name": "frame"}, "mark": {"type": "rule", "stroke": "#3a3a3a", "strokeWidth": 1},
         "encoding": {"x": {"field": "x", "type": "quantitative", "scale": {"domain": [-0.32, 10.24], "nice": false, "zero": false}, "axis": null}, "y": {"field": "y", "type": "quantitative", "scale": {"domain": [-10.16, 6.48], "nice": false, "zero": false}, "axis": null}, "x2": {"field": "x2"}, "y2": {"field": "y2"}}},
        {"data": {"name": "topTicks"}, "mark": {"type": "rule", "stroke": "#3a3a3a", "strokeWidth": 3.5, "strokeDash": [0.7, 4.7]},
         "encoding": {"x": {"field": "x", "type": "quantitative", "scale": {"domain": [-0.32, 10.24], "nice": false, "zero": false}, "axis": null}, "y": {"field": "y", "type": "quantitative", "scale": {"domain": [-10.16, 6.48], "nice": false, "zero": false}, "axis": null}, "x2": {"field": "x2"}, "y2": {"field": "y2"}}},
        {"data": {"name": "center"}, "mark": {"type": "point", "shape": "circle", "size": 14, "filled": false, "stroke": "#3a3a3a", "strokeWidth": 1},
         "encoding": {"x": {"field": "x", "type": "quantitative", "scale": {"domain": [-0.32, 10.24], "nice": false, "zero": false}, "axis": null}, "y": {"field": "y", "type": "quantitative", "scale": {"domain": [-10.16, 6.48], "nice": false, "zero": false}, "axis": null}}},
        {"data": {"name": "deg"}, "mark": {"type": "text", "fontSize": 5.5, "font": "Liberation Sans", "color": "#8a8a8a", "align": "center", "baseline": "middle"},
         "encoding": {"x": {"field": "x", "type": "quantitative", "scale": {"domain": [-0.32, 10.24], "nice": false, "zero": false}, "axis": null}, "y": {"field": "y", "type": "quantitative", "scale": {"domain": [-10.16, 6.48], "nice": false, "zero": false}, "axis": null}, "text": {"field": "lab"}, "angle": {"condition": {"test": "datum.twa == 45", "value": 0}, "field": "twa", "type": "quantitative", "scale": null}}},
        {"data": {"name": "curvesL"}, "mark": {"type": "line", "strokeWidth": 1.6, "interpolate": "catmull-rom"},
         "encoding": {"x": {"field": "x", "type": "quantitative", "scale": {"domain": [-0.32, 10.24], "nice": false, "zero": false}, "axis": null}, "y": {"field": "y", "type": "quantitative", "scale": {"domain": [-10.16, 6.48], "nice": false, "zero": false}, "axis": null},
           "color": {"field": "sail", "type": "nominal", "scale": {"domain": ["upwind", "code0", "gennaker", "spinnaker"], "range": ["#2424c8", "#dd30dd", "#e4331f", "#2c8a2c"]}, "legend": null},
           "detail": [{"field": "tws", "type": "nominal"}, {"field": "part", "type": "nominal"}], "order": {"field": "i", "type": "quantitative"}}},
        {"data": {"name": "dotsL"}, "mark": {"type": "point", "shape": "circle", "size": 12, "filled": true, "opacity": 1},
         "encoding": {"x": {"field": "x", "type": "quantitative", "scale": {"domain": [-0.32, 10.24], "nice": false, "zero": false}, "axis": null}, "y": {"field": "y", "type": "quantitative", "scale": {"domain": [-10.16, 6.48], "nice": false, "zero": false}, "axis": null},
           "color": {"field": "sail", "type": "nominal", "scale": {"domain": ["upwind", "code0", "gennaker", "spinnaker"], "range": ["#2424c8", "#dd30dd", "#e4331f", "#2c8a2c"]}, "legend": null}}},
        {"data": {"name": "xL"}, "mark": {"type": "point", "shape": "cross", "angle": 45, "size": 22, "filled": true, "color": "#151515", "opacity": 1},
         "encoding": {"x": {"field": "x", "type": "quantitative", "scale": {"domain": [-0.32, 10.24], "nice": false, "zero": false}, "axis": null}, "y": {"field": "y", "type": "quantitative", "scale": {"domain": [-10.16, 6.48], "nice": false, "zero": false}, "axis": null}}},
        {"data": {"name": "labelsL"}, "mark": {"type": "text", "fontSize": 8, "fontWeight": "bold", "font": "Liberation Sans", "align": "center", "baseline": "middle"},
         "encoding": {"x": {"field": "x", "type": "quantitative", "scale": {"domain": [-0.32, 10.24], "nice": false, "zero": false}, "axis": null}, "y": {"field": "y", "type": "quantitative", "scale": {"domain": [-10.16, 6.48], "nice": false, "zero": false}, "axis": null}, "text": {"field": "label"},
           "color": {"field": "sail", "type": "nominal", "scale": {"domain": ["upwind", "code0", "gennaker", "spinnaker"], "range": ["#2424c8", "#dd30dd", "#e4331f", "#2c8a2c"]}, "legend": null}}},
        {"data": {"name": "headL"}, "mark": {"type": "text", "fontSize": 16.5, "font": "Lato", "color": "#1a1a1a", "baseline": "middle", "align": "left"},
         "encoding": {"x": {"field": "x", "type": "quantitative", "scale": {"domain": [-0.32, 10.24], "nice": false, "zero": false}, "axis": null}, "y": {"field": "y", "type": "quantitative", "scale": {"domain": [-10.16, 6.48], "nice": false, "zero": false}, "axis": null}, "text": {"field": "text"}}},
        {"data": {"name": "twaText"}, "mark": {"type": "text", "fontSize": 16.5, "font": "Lato", "color": "#1a1a1a", "baseline": "middle", "align": "center"},
         "encoding": {"x": {"field": "x", "type": "quantitative", "scale": {"domain": [-0.32, 10.24], "nice": false, "zero": false}, "axis": null}, "y": {"field": "y", "type": "quantitative", "scale": {"domain": [-10.16, 6.48], "nice": false, "zero": false}, "axis": null}, "text": {"field": "text"}}}
      ]
    },
    {
      "width": 330,
      "height": 520,
      "layer": [
        {"data": {"name": "arcLine"}, "mark": {"type": "arc", "fill": "#3a3a3a", "filled": true, "strokeWidth": 0},
         "encoding": {
           "x": {"datum": 0, "type": "quantitative", "scale": {"domain": [-0.32, 10.24], "nice": false, "zero": false}, "axis": null},
           "y": {"datum": 0, "type": "quantitative", "scale": {"domain": [-10.16, 6.48], "nice": false, "zero": false}, "axis": null},
           "theta": {"field": "t1", "type": "quantitative", "scale": {"domain": [0, 360], "range": [0, 6.283185307179586]}},
           "theta2": {"field": "t2"},
           "radius": {"field": "r1", "type": "quantitative", "scale": {"type": "linear", "domain": [0, 10], "range": [0, 312.5], "zero": true}},
           "radius2": {"field": "r2"}}},
        {"data": {"name": "arcTick"}, "mark": {"type": "arc", "filled": false, "stroke": "#3a3a3a", "strokeWidth": 3.5, "strokeDash": [0.7, 4.7158]},
         "encoding": {
           "x": {"datum": 0, "type": "quantitative", "scale": {"domain": [-0.32, 10.24], "nice": false, "zero": false}, "axis": null},
           "y": {"datum": 0, "type": "quantitative", "scale": {"domain": [-10.16, 6.48], "nice": false, "zero": false}, "axis": null},
           "theta": {"field": "t1", "type": "quantitative", "scale": {"domain": [0, 360], "range": [0, 6.283185307179586]}},
           "theta2": {"field": "t2"},
           "radius": {"field": "r1", "type": "quantitative", "scale": {"type": "linear", "domain": [0, 10], "range": [0, 312.5], "zero": true}},
           "radius2": {"field": "r2"}}},
        {"data": {"name": "arcTick"}, "mark": {"type": "arc", "filled": false, "stroke": "#3a3a3a", "strokeWidth": 6, "strokeDash": [1.1, 25.979]},
         "encoding": {
           "x": {"datum": 0, "type": "quantitative", "scale": {"domain": [-0.32, 10.24], "nice": false, "zero": false}, "axis": null},
           "y": {"datum": 0, "type": "quantitative", "scale": {"domain": [-10.16, 6.48], "nice": false, "zero": false}, "axis": null},
           "theta": {"field": "t1", "type": "quantitative", "scale": {"domain": [0, 360], "range": [0, 6.283185307179586]}},
           "theta2": {"field": "t2"},
           "radius": {"field": "r1", "type": "quantitative", "scale": {"type": "linear", "domain": [0, 10], "range": [0, 312.5], "zero": true}},
           "radius2": {"field": "r2"}}},
        {"data": {"name": "spokes"}, "mark": {"type": "rule", "stroke": "#3a3a3a", "strokeWidth": 1},
         "encoding": {"x": {"field": "x", "type": "quantitative", "scale": {"domain": [-0.32, 10.24], "nice": false, "zero": false}, "axis": null}, "y": {"field": "y", "type": "quantitative", "scale": {"domain": [-10.16, 6.48], "nice": false, "zero": false}, "axis": null}, "x2": {"field": "x2"}, "y2": {"field": "y2"}}},
        {"data": {"name": "ticksMinor"}, "mark": {"type": "rule", "stroke": "#3a3a3a", "strokeWidth": 3.25, "strokeDash": [0.6, 2.525]},
         "encoding": {"x": {"field": "x", "type": "quantitative", "scale": {"domain": [-0.32, 10.24], "nice": false, "zero": false}, "axis": null}, "y": {"field": "y", "type": "quantitative", "scale": {"domain": [-10.16, 6.48], "nice": false, "zero": false}, "axis": null}, "x2": {"field": "x2"}, "y2": {"field": "y2"}}},
        {"data": {"name": "ticksMajor"}, "mark": {"type": "rule", "stroke": "#3a3a3a", "strokeWidth": 5.5, "strokeDash": [0.9, 14.725]},
         "encoding": {"x": {"field": "x", "type": "quantitative", "scale": {"domain": [-0.32, 10.24], "nice": false, "zero": false}, "axis": null}, "y": {"field": "y", "type": "quantitative", "scale": {"domain": [-10.16, 6.48], "nice": false, "zero": false}, "axis": null}, "x2": {"field": "x2"}, "y2": {"field": "y2"}}},
        {"data": {"name": "frame"}, "mark": {"type": "rule", "stroke": "#3a3a3a", "strokeWidth": 1},
         "encoding": {"x": {"field": "x", "type": "quantitative", "scale": {"domain": [-0.32, 10.24], "nice": false, "zero": false}, "axis": null}, "y": {"field": "y", "type": "quantitative", "scale": {"domain": [-10.16, 6.48], "nice": false, "zero": false}, "axis": null}, "x2": {"field": "x2"}, "y2": {"field": "y2"}}},
        {"data": {"name": "topTicks"}, "mark": {"type": "rule", "stroke": "#3a3a3a", "strokeWidth": 3.5, "strokeDash": [0.7, 4.7]},
         "encoding": {"x": {"field": "x", "type": "quantitative", "scale": {"domain": [-0.32, 10.24], "nice": false, "zero": false}, "axis": null}, "y": {"field": "y", "type": "quantitative", "scale": {"domain": [-10.16, 6.48], "nice": false, "zero": false}, "axis": null}, "x2": {"field": "x2"}, "y2": {"field": "y2"}}},
        {"data": {"name": "center"}, "mark": {"type": "point", "shape": "circle", "size": 14, "filled": false, "stroke": "#3a3a3a", "strokeWidth": 1},
         "encoding": {"x": {"field": "x", "type": "quantitative", "scale": {"domain": [-0.32, 10.24], "nice": false, "zero": false}, "axis": null}, "y": {"field": "y", "type": "quantitative", "scale": {"domain": [-10.16, 6.48], "nice": false, "zero": false}, "axis": null}}},
        {"data": {"name": "deg"}, "mark": {"type": "text", "fontSize": 5.5, "font": "Liberation Sans", "color": "#8a8a8a", "align": "center", "baseline": "middle"},
         "encoding": {"x": {"field": "x", "type": "quantitative", "scale": {"domain": [-0.32, 10.24], "nice": false, "zero": false}, "axis": null}, "y": {"field": "y", "type": "quantitative", "scale": {"domain": [-10.16, 6.48], "nice": false, "zero": false}, "axis": null}, "text": {"field": "lab"}, "angle": {"condition": {"test": "datum.twa == 45", "value": 0}, "field": "twa", "type": "quantitative", "scale": null}}},
        {"data": {"name": "curvesR"}, "mark": {"type": "line", "strokeWidth": 1.6, "interpolate": "catmull-rom"},
         "encoding": {"x": {"field": "x", "type": "quantitative", "scale": {"domain": [-0.32, 10.24], "nice": false, "zero": false}, "axis": null}, "y": {"field": "y", "type": "quantitative", "scale": {"domain": [-10.16, 6.48], "nice": false, "zero": false}, "axis": null},
           "color": {"field": "sail", "type": "nominal", "scale": {"domain": ["upwind", "code0", "gennaker", "spinnaker"], "range": ["#2424c8", "#dd30dd", "#e4331f", "#2c8a2c"]}, "legend": null},
           "detail": [{"field": "tws", "type": "nominal"}, {"field": "part", "type": "nominal"}], "order": {"field": "i", "type": "quantitative"}}},
        {"data": {"name": "dotsR"}, "mark": {"type": "point", "shape": "circle", "size": 12, "filled": true, "opacity": 1},
         "encoding": {"x": {"field": "x", "type": "quantitative", "scale": {"domain": [-0.32, 10.24], "nice": false, "zero": false}, "axis": null}, "y": {"field": "y", "type": "quantitative", "scale": {"domain": [-10.16, 6.48], "nice": false, "zero": false}, "axis": null},
           "color": {"field": "sail", "type": "nominal", "scale": {"domain": ["upwind", "code0", "gennaker", "spinnaker"], "range": ["#2424c8", "#dd30dd", "#e4331f", "#2c8a2c"]}, "legend": null}}},
        {"data": {"name": "xR"}, "mark": {"type": "point", "shape": "cross", "angle": 45, "size": 22, "filled": true, "color": "#151515", "opacity": 1},
         "encoding": {"x": {"field": "x", "type": "quantitative", "scale": {"domain": [-0.32, 10.24], "nice": false, "zero": false}, "axis": null}, "y": {"field": "y", "type": "quantitative", "scale": {"domain": [-10.16, 6.48], "nice": false, "zero": false}, "axis": null}}},
        {"data": {"name": "labelsR"}, "mark": {"type": "text", "fontSize": 8, "fontWeight": "bold", "font": "Liberation Sans", "align": "center", "baseline": "middle"},
         "encoding": {"x": {"field": "x", "type": "quantitative", "scale": {"domain": [-0.32, 10.24], "nice": false, "zero": false}, "axis": null}, "y": {"field": "y", "type": "quantitative", "scale": {"domain": [-10.16, 6.48], "nice": false, "zero": false}, "axis": null}, "text": {"field": "label"},
           "color": {"field": "sail", "type": "nominal", "scale": {"domain": ["upwind", "code0", "gennaker", "spinnaker"], "range": ["#2424c8", "#dd30dd", "#e4331f", "#2c8a2c"]}, "legend": null}}},
        {"data": {"name": "headR"}, "mark": {"type": "text", "fontSize": 16.5, "font": "Lato", "color": "#1a1a1a", "baseline": "middle", "align": "left"},
         "encoding": {"x": {"field": "x", "type": "quantitative", "scale": {"domain": [-0.32, 10.24], "nice": false, "zero": false}, "axis": null}, "y": {"field": "y", "type": "quantitative", "scale": {"domain": [-10.16, 6.48], "nice": false, "zero": false}, "axis": null}, "text": {"field": "text"}}}
      ]
    }
  ]
}
